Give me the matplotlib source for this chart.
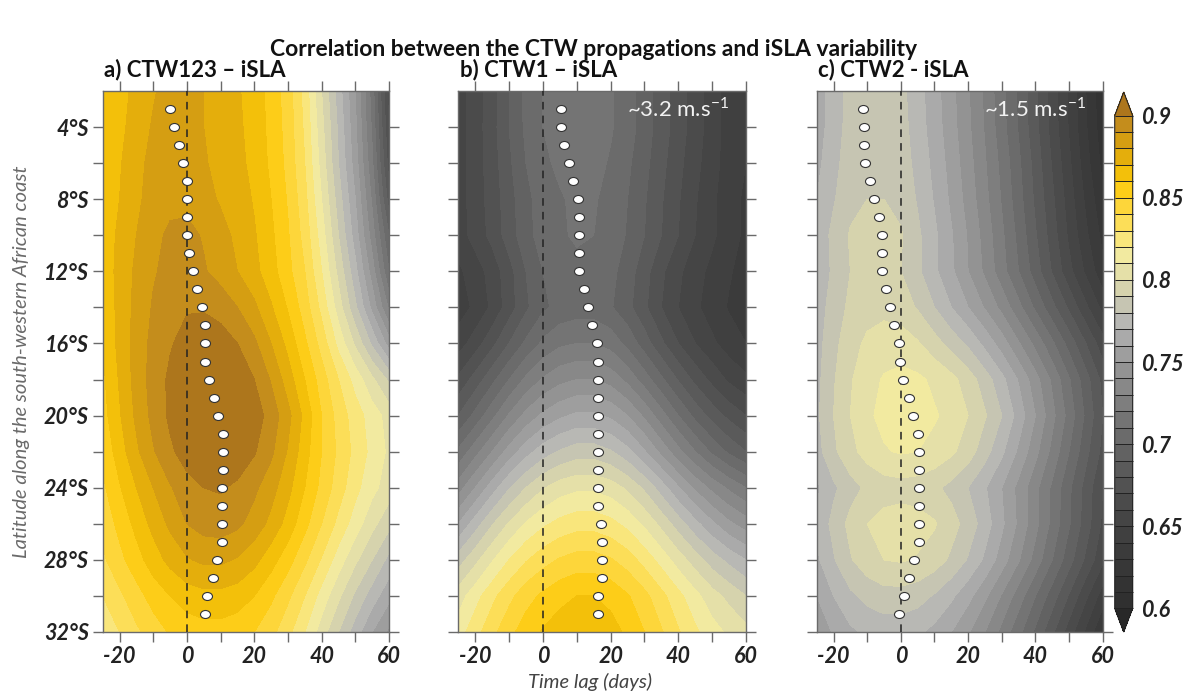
import numpy as np
import matplotlib
matplotlib.use("Agg")
import matplotlib.pyplot as plt
from matplotlib.colors import ListedColormap
from matplotlib.path import Path

plt.rcParams['font.family'] = ['Lato', 'DejaVu Sans']

# ---------------- data ----------------
lags = [-25, -20, -15, -10, -5, 0, 5, 10, 15, 20, 25, 30, 35, 40, 45, 50, 55, 60]
lats = [2, 4, 6, 8, 10, 12, 14, 16, 18, 20, 22, 24, 26, 28, 30, 32]

corr_ctw123 = [
    [0.860, 0.866, 0.873, 0.879, 0.884, 0.884, 0.880, 0.876, 0.871, 0.866, 0.856, 0.845, 0.826, 0.800, 0.775, 0.750, 0.715, 0.665],
    [0.860, 0.867, 0.875, 0.881, 0.885, 0.885, 0.880, 0.876, 0.872, 0.866, 0.857, 0.846, 0.828, 0.803, 0.778, 0.752, 0.718, 0.670],
    [0.862, 0.869, 0.877, 0.883, 0.886, 0.886, 0.881, 0.877, 0.873, 0.867, 0.858, 0.847, 0.830, 0.806, 0.780, 0.755, 0.722, 0.675],
    [0.862, 0.870, 0.878, 0.884, 0.887, 0.887, 0.883, 0.879, 0.875, 0.869, 0.860, 0.849, 0.833, 0.810, 0.785, 0.760, 0.728, 0.685],
    [0.864, 0.872, 0.880, 0.887, 0.892, 0.893, 0.889, 0.883, 0.878, 0.871, 0.862, 0.851, 0.836, 0.815, 0.790, 0.765, 0.735, 0.700],
    [0.864, 0.873, 0.882, 0.889, 0.893, 0.894, 0.891, 0.886, 0.880, 0.873, 0.864, 0.853, 0.840, 0.820, 0.797, 0.773, 0.745, 0.710],
    [0.862, 0.873, 0.883, 0.891, 0.896, 0.899, 0.899, 0.896, 0.890, 0.882, 0.871, 0.859, 0.845, 0.827, 0.805, 0.782, 0.757, 0.728],
    [0.860, 0.873, 0.884, 0.893, 0.899, 0.904, 0.906, 0.905, 0.900, 0.892, 0.880, 0.867, 0.852, 0.836, 0.817, 0.798, 0.778, 0.755],
    [0.858, 0.871, 0.884, 0.894, 0.902, 0.907, 0.910, 0.910, 0.907, 0.900, 0.889, 0.875, 0.860, 0.845, 0.830, 0.816, 0.802, 0.788],
    [0.856, 0.869, 0.882, 0.893, 0.902, 0.907, 0.911, 0.912, 0.910, 0.905, 0.896, 0.883, 0.867, 0.850, 0.836, 0.825, 0.815, 0.806],
    [0.852, 0.865, 0.878, 0.889, 0.898, 0.905, 0.909, 0.910, 0.907, 0.901, 0.892, 0.879, 0.864, 0.850, 0.838, 0.827, 0.817, 0.808],
    [0.848, 0.859, 0.870, 0.880, 0.889, 0.896, 0.900, 0.901, 0.898, 0.892, 0.884, 0.873, 0.860, 0.847, 0.835, 0.823, 0.813, 0.805],
    [0.843, 0.853, 0.863, 0.873, 0.882, 0.890, 0.894, 0.895, 0.892, 0.886, 0.877, 0.866, 0.853, 0.840, 0.827, 0.815, 0.803, 0.793],
    [0.838, 0.847, 0.856, 0.865, 0.873, 0.879, 0.882, 0.882, 0.879, 0.873, 0.864, 0.854, 0.842, 0.829, 0.815, 0.802, 0.790, 0.777],
    [0.830, 0.838, 0.846, 0.854, 0.860, 0.865, 0.867, 0.867, 0.865, 0.860, 0.852, 0.842, 0.830, 0.816, 0.802, 0.788, 0.775, 0.763],
    [0.822, 0.830, 0.838, 0.845, 0.851, 0.854, 0.856, 0.856, 0.854, 0.850, 0.843, 0.833, 0.820, 0.805, 0.790, 0.775, 0.760, 0.748],
]

corr_ctw1 = [
    [0.655, 0.665, 0.675, 0.690, 0.703, 0.710, 0.713, 0.714, 0.713, 0.711, 0.705, 0.695, 0.685, 0.675, 0.665, 0.655, 0.645, 0.640],
    [0.655, 0.665, 0.676, 0.690, 0.702, 0.710, 0.714, 0.715, 0.714, 0.711, 0.705, 0.695, 0.685, 0.675, 0.665, 0.655, 0.645, 0.640],
    [0.655, 0.665, 0.675, 0.688, 0.700, 0.708, 0.712, 0.714, 0.713, 0.709, 0.702, 0.693, 0.683, 0.673, 0.663, 0.654, 0.645, 0.640],
    [0.655, 0.665, 0.674, 0.686, 0.697, 0.705, 0.709, 0.712, 0.711, 0.707, 0.700, 0.691, 0.681, 0.671, 0.661, 0.652, 0.644, 0.638],
    [0.655, 0.664, 0.673, 0.685, 0.696, 0.705, 0.709, 0.711, 0.710, 0.706, 0.699, 0.690, 0.680, 0.670, 0.660, 0.652, 0.644, 0.638],
    [0.648, 0.655, 0.664, 0.676, 0.690, 0.700, 0.705, 0.708, 0.707, 0.703, 0.695, 0.684, 0.672, 0.662, 0.654, 0.647, 0.641, 0.636],
    [0.645, 0.652, 0.662, 0.675, 0.688, 0.698, 0.703, 0.705, 0.705, 0.701, 0.693, 0.682, 0.670, 0.660, 0.652, 0.645, 0.639, 0.635],
    [0.655, 0.665, 0.677, 0.690, 0.702, 0.712, 0.718, 0.720, 0.720, 0.716, 0.707, 0.695, 0.682, 0.670, 0.660, 0.652, 0.645, 0.640],
    [0.672, 0.684, 0.697, 0.710, 0.722, 0.731, 0.737, 0.740, 0.740, 0.736, 0.727, 0.715, 0.702, 0.689, 0.677, 0.667, 0.658, 0.652],
    [0.690, 0.703, 0.717, 0.731, 0.743, 0.752, 0.758, 0.762, 0.762, 0.758, 0.750, 0.738, 0.724, 0.710, 0.697, 0.686, 0.677, 0.670],
    [0.712, 0.726, 0.740, 0.754, 0.766, 0.775, 0.781, 0.785, 0.785, 0.781, 0.773, 0.761, 0.747, 0.733, 0.720, 0.708, 0.698, 0.690],
    [0.735, 0.750, 0.765, 0.779, 0.790, 0.799, 0.805, 0.808, 0.808, 0.805, 0.798, 0.788, 0.775, 0.761, 0.748, 0.737, 0.728, 0.720],
    [0.760, 0.775, 0.789, 0.801, 0.811, 0.818, 0.823, 0.826, 0.826, 0.823, 0.817, 0.808, 0.797, 0.785, 0.773, 0.762, 0.752, 0.745],
    [0.785, 0.797, 0.809, 0.820, 0.829, 0.836, 0.841, 0.844, 0.844, 0.841, 0.835, 0.826, 0.816, 0.805, 0.795, 0.785, 0.777, 0.770],
    [0.805, 0.816, 0.827, 0.837, 0.846, 0.852, 0.857, 0.860, 0.860, 0.857, 0.851, 0.843, 0.833, 0.823, 0.813, 0.804, 0.797, 0.790],
    [0.815, 0.826, 0.837, 0.847, 0.855, 0.861, 0.865, 0.867, 0.867, 0.864, 0.858, 0.850, 0.841, 0.831, 0.822, 0.814, 0.808, 0.803],
]

corr_ctw2 = [
    [0.765, 0.775, 0.783, 0.786, 0.786, 0.783, 0.774, 0.764, 0.753, 0.741, 0.728, 0.713, 0.698, 0.682, 0.665, 0.648, 0.630, 0.612],
    [0.765, 0.775, 0.784, 0.787, 0.787, 0.784, 0.775, 0.765, 0.754, 0.742, 0.729, 0.714, 0.699, 0.683, 0.666, 0.649, 0.631, 0.614],
    [0.767, 0.777, 0.785, 0.788, 0.788, 0.785, 0.777, 0.767, 0.756, 0.744, 0.731, 0.717, 0.702, 0.686, 0.669, 0.652, 0.634, 0.617],
    [0.770, 0.779, 0.787, 0.790, 0.790, 0.787, 0.779, 0.769, 0.758, 0.746, 0.733, 0.719, 0.704, 0.688, 0.672, 0.655, 0.638, 0.622],
    [0.772, 0.783, 0.791, 0.794, 0.794, 0.791, 0.782, 0.772, 0.761, 0.749, 0.736, 0.722, 0.707, 0.691, 0.675, 0.658, 0.642, 0.627],
    [0.772, 0.782, 0.790, 0.793, 0.793, 0.790, 0.782, 0.772, 0.762, 0.750, 0.738, 0.724, 0.710, 0.695, 0.679, 0.663, 0.648, 0.633],
    [0.774, 0.785, 0.792, 0.796, 0.797, 0.795, 0.789, 0.780, 0.770, 0.760, 0.749, 0.737, 0.723, 0.708, 0.693, 0.678, 0.662, 0.647],
    [0.776, 0.787, 0.796, 0.802, 0.805, 0.805, 0.801, 0.794, 0.786, 0.778, 0.767, 0.755, 0.741, 0.727, 0.712, 0.696, 0.680, 0.664],
    [0.777, 0.789, 0.799, 0.806, 0.811, 0.813, 0.812, 0.808, 0.803, 0.795, 0.785, 0.773, 0.759, 0.744, 0.728, 0.711, 0.694, 0.677],
    [0.778, 0.790, 0.800, 0.808, 0.813, 0.815, 0.814, 0.811, 0.807, 0.800, 0.791, 0.780, 0.766, 0.750, 0.733, 0.716, 0.698, 0.680],
    [0.776, 0.788, 0.797, 0.804, 0.809, 0.811, 0.810, 0.807, 0.802, 0.795, 0.784, 0.772, 0.758, 0.743, 0.727, 0.710, 0.693, 0.677],
    [0.768, 0.778, 0.786, 0.792, 0.795, 0.796, 0.795, 0.792, 0.787, 0.780, 0.771, 0.760, 0.747, 0.733, 0.718, 0.702, 0.686, 0.670],
    [0.772, 0.783, 0.793, 0.800, 0.804, 0.805, 0.804, 0.801, 0.794, 0.786, 0.775, 0.762, 0.748, 0.733, 0.717, 0.701, 0.685, 0.668],
    [0.768, 0.779, 0.789, 0.796, 0.800, 0.801, 0.799, 0.795, 0.788, 0.779, 0.768, 0.755, 0.741, 0.726, 0.710, 0.694, 0.678, 0.662],
    [0.760, 0.770, 0.778, 0.783, 0.786, 0.786, 0.784, 0.779, 0.772, 0.763, 0.752, 0.739, 0.725, 0.710, 0.695, 0.679, 0.662, 0.645],
    [0.752, 0.761, 0.768, 0.772, 0.774, 0.774, 0.772, 0.767, 0.760, 0.751, 0.740, 0.727, 0.713, 0.698, 0.682, 0.665, 0.648, 0.630],
]

# lag of maximum correlation at each latitude (3S..31S)
max_lats = list(range(3, 32))
maxlag_ctw123 = [-5.1, -3.7, -2.4, -1.1, -0.1, 0.0, 0.0, 0.0, 0.5, 1.9, 3.1, 4.5, 5.4, 5.4, 5.4,
                 6.6, 8.1, 9.3, 10.8, 10.8, 10.8, 10.3, 10.3, 10.3, 10.5, 9.0, 7.7, 6.1, 5.3]
maxlag_ctw1 = [5.3, 5.4, 6.3, 7.7, 9.0, 10.4, 10.8, 10.8, 10.8, 10.8, 12.0, 13.4, 14.6, 16.1, 16.3,
               16.3, 16.3, 16.3, 16.3, 16.3, 16.3, 16.3, 16.3, 17.3, 17.5, 17.5, 17.5, 16.4, 16.4]
maxlag_ctw2 = [-11.1, -11.0, -11.0, -10.5, -9.1, -7.9, -6.4, -5.5, -5.5, -5.5, -4.5, -3.1, -1.9, -0.4, -0.1,
               0.7, 2.4, 3.5, 5.1, 5.4, 5.4, 5.4, 5.4, 5.4, 5.4, 3.8, 2.4, 0.8, -0.4]

panel_titles = ["a) CTW123 \u2013 iSLA", "b) CTW1 \u2013 iSLA", "c) CTW2 - iSLA"]
speed_labels = [None, r"~3.2 m.s$^{\mathregular{-1}}$", r"~1.5 m.s$^{\mathregular{-1}}$"]

levels = np.round(np.arange(0.60, 0.9001, 0.01), 2)
band_colors = [
    "#303030", "#333333", "#373737", "#3b3b3b", "#404040", "#454545", "#4b4b4b", "#525252",
    "#5a5a5a", "#626262", "#6b6b6b", "#747474", "#7e7e7e", "#888888", "#939393", "#9e9e9e",
    "#aaaaaa", "#b8b8b4", "#c6c5b2", "#d6d3ad", "#e5e0a8", "#f2eaa0", "#f9e67c", "#fcde58",
    "#fdd63a", "#fdcd18", "#f3c00a", "#e4ae0c", "#d59e12", "#c48d1c",
]
cmap = ListedColormap(band_colors)
cmap.set_over("#ad761c")
cmap.set_under("#282828")

# elliptical dot marker (slightly wider than tall)
_circ = Path.unit_circle()
dot_marker = Path(_circ.vertices * np.array([1.25, 1.0]), _circ.codes)

# ---------------- figure ----------------
W, H = 1188, 695
fig = plt.figure(figsize=(W / 100, H / 100), dpi=100)


def rect(l, r, t, b):
    return [l / W, 1 - b / H, (r - l) / W, (b - t) / H]


ax_rects = [rect(102.7, 389, 91, 632), rect(458.3, 746, 91, 632), rect(816.7, 1102.7, 91, 632)]
fields = [corr_ctw123, corr_ctw1, corr_ctw2]
maxlags = [maxlag_ctw123, maxlag_ctw1, maxlag_ctw2]

LX, LY = np.meshgrid(np.array(lags, float), -np.array(lats, float))
tick_font = dict(fontsize=15.5, fontweight='bold', fontstyle='italic')
spine_col = "#6a6a6a"

cs = None
for i in range(3):
    ax = fig.add_axes(ax_rects[i])
    Z = np.array(fields[i])
    cs = ax.contourf(LX, LY, Z, levels=levels, cmap=cmap, extend='both')
    ax.axvline(0, color='#222222', lw=1.1, ls=(0, (5, 4)), zorder=3)
    ax.plot(maxlags[i], -np.array(max_lats, float), ls='none', marker=dot_marker, ms=7.2,
            mfc='white', mec='#333333', mew=0.8, zorder=4)
    ax.set_xlim(-25, 60)
    ax.set_ylim(-32, -2)
    xt = list(range(-20, 61, 10))
    ax.set_xticks(xt)
    ax.set_xticklabels([str(v) if v % 20 == 0 else '' for v in xt], **tick_font)
    yt = list(range(-32, -3, 2))
    ax.set_yticks(yt)
    if i == 0:
        ax.set_yticklabels([f"{-v}\u00b0S" if (-v) % 4 == 0 else '' for v in yt], **tick_font)
    else:
        ax.set_yticklabels([])
    ax.tick_params(direction='out', length=7, width=1, color=spine_col,
                   top=True, right=True, labelcolor='#222222', pad=3)
    for s in ax.spines.values():
        s.set_color(spine_col)
        s.set_linewidth(1.0)
    ax.text(0.005, 1 + (91 - 70) / 541, panel_titles[i], transform=ax.transAxes, ha='left',
            va='center', fontsize=16, fontweight='bold', color='#111111')
    if speed_labels[i]:
        ax.text(55, -3.0, speed_labels[i], ha='right', va='center', fontsize=16,
                color='#f2f2f2', zorder=5)

cax = fig.add_axes(rect(1114.7, 1132.7, 92, 632))
cb = fig.colorbar(cs, cax=cax, extend='both', extendfrac=0.048, drawedges=True,
                  ticks=[0.6, 0.65, 0.7, 0.75, 0.8, 0.85, 0.9])
cb.ax.set_yticklabels(['0.6', '0.65', '0.7', '0.75', '0.8', '0.85', '0.9'], **tick_font)
cb.ax.tick_params(length=0, pad=6, labelcolor='#222222')
cb.outline.set_edgecolor('#222222')
cb.outline.set_linewidth(0.8)
cb.dividers.set_color('#222222')
cb.dividers.set_linewidth(0.7)

fig.text(0.5, 1 - 50 / H, "Correlation between the CTW propagations and iSLA variability",
         ha='center', va='center', fontsize=16.5, fontweight='bold', color='#111111')
fig.text(22 / W, 1 - 362 / H, "Latitude along the south-western African coast", rotation=90,
         ha='center', va='center', fontsize=14.5, fontstyle='italic', color='#6a6a6a')
fig.text(590 / W, 1 - 682 / H, "Time lag (days)", ha='center', va='center', fontsize=14.5,
         fontstyle='italic', color='#444444')

fig.savefig("out.png", dpi=100)
